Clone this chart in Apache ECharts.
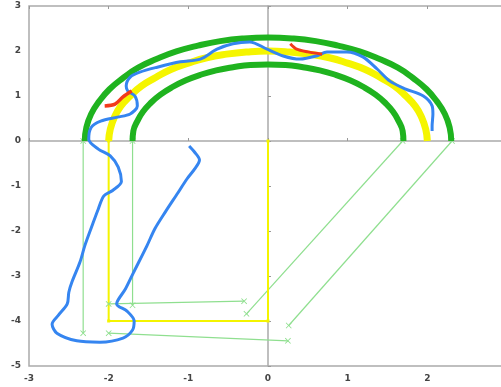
<!DOCTYPE html>
<html>
<head>
<meta charset="utf-8">
<script src="https://cdn.jsdelivr.net/npm/echarts@6/dist/echarts.min.js"></script>
<style>
html,body{margin:0;padding:0;background:#fff;}
#chart{width:501px;height:387px;}
</style>
</head>
<body>
<div id="chart"></div>
<script>
// tick values
var xTicks = [-3, -2, -1, 0, 1, 2, 3];
var yTicks = [-5, -4, -3, -2, -1, 0, 1, 2, 3];

// track arcs (thick green / yellow centre line)
var outerArc = [[2.3,0],[2.28,0.3],[2.22,0.6],[2.12,0.88],[1.99,1.15],[1.82,1.4],[1.63,1.63],[1.4,1.82],
  [1.15,1.99],[0.88,2.12],[0.6,2.22],[0.3,2.28],[0,2.3],[-0.3,2.28],[-0.6,2.22],[-0.88,2.12],
  [-1.15,1.99],[-1.4,1.82],[-1.63,1.63],[-1.82,1.4],[-1.99,1.15],[-2.12,0.88],[-2.22,0.6],[-2.28,0.3],[-2.3,0]];
var innerArc = [[1.7,0],[1.69,0.22],[1.64,0.44],[1.57,0.65],[1.47,0.85],[1.35,1.03],[1.2,1.2],[1.03,1.35],
  [0.85,1.47],[0.65,1.57],[0.44,1.64],[0.22,1.69],[0,1.7],[-0.22,1.69],[-0.44,1.64],[-0.65,1.57],
  [-0.85,1.47],[-1.03,1.35],[-1.2,1.2],[-1.35,1.03],[-1.47,0.85],[-1.57,0.65],[-1.64,0.44],[-1.69,0.22],[-1.7,0]];
var centreArc = [[2.0,0],[1.98,0.26],[1.93,0.52],[1.85,0.77],[1.73,1.0],[1.59,1.22],[1.41,1.41],[1.22,1.59],
  [1.0,1.73],[0.77,1.85],[0.52,1.93],[0.26,1.98],[0,2.0],[-0.26,1.98],[-0.52,1.93],[-0.77,1.85],
  [-1.0,1.73],[-1.22,1.59],[-1.41,1.41],[-1.59,1.22],[-1.73,1.0],[-1.85,0.77],[-1.93,0.52],[-1.98,0.26],[-2.0,0]];

// yellow centre path
var centrePath = [[-2,0],[-2,-4],[0,-4],[0,0]];

// thin green boundary segments
var outerSeg1 = [[-2.32,0],[-2.32,-4.27]];
var outerSeg2 = [[-2.0,-4.27],[0.25,-4.44]];
var outerSeg3 = [[0.26,-4.1],[2.31,0]];
var innerSeg1 = [[-1.7,0],[-1.7,-3.65]];
var innerSeg2 = [[-2.0,-3.62],[-0.3,-3.56]];
var innerSeg3 = [[-0.27,-3.84],[1.69,0]];

// driven trajectory
var trajectory = [[-0.99,-0.11],[-0.92,-0.25],[-0.86,-0.42],[-0.92,-0.62],[-1.02,-0.85],[-1.13,-1.15],
  [-1.29,-1.58],[-1.42,-1.95],[-1.52,-2.33],[-1.69,-2.93],[-1.79,-3.29],[-1.9,-3.62],[-1.77,-3.78],
  [-1.68,-4.0],[-1.7,-4.2],[-1.82,-4.38],[-2.11,-4.47],[-2.4,-4.44],[-2.65,-4.27],[-2.71,-4.07],
  [-2.63,-3.87],[-2.52,-3.62],[-2.5,-3.36],[-2.46,-3.13],[-2.36,-2.69],[-2.3,-2.33],[-2.21,-1.89],
  [-2.13,-1.51],[-2.06,-1.22],[-1.95,-1.1],[-1.84,-0.9],[-1.88,-0.58],[-1.98,-0.33],[-2.13,-0.18],
  [-2.25,0.04],[-2.22,0.3],[-2.1,0.44],[-1.89,0.53],[-1.73,0.6],[-1.64,0.78],[-1.67,1.0],
  [-1.76,1.11],[-1.78,1.22],[-1.73,1.42],[-1.61,1.53],[-1.39,1.64],[-1.1,1.76],[-0.85,1.82],
  [-0.64,2.04],[-0.44,2.16],[-0.23,2.2],[-0.01,2.04],[0.19,1.89],[0.4,1.82],[0.61,1.89],
  [0.74,1.98],[0.99,1.98],[1.19,1.87],[1.37,1.6],[1.53,1.33],[1.72,1.16],[1.95,1.0],
  [2.06,0.78],[2.07,0.6],[2.06,0.33],[2.06,0.22]];

// red pieces
var redLeft = [[-2.05,0.78],[-1.92,0.82],[-1.82,0.98],[-1.71,1.11]];
var redRight = [[0.28,2.16],[0.36,2.04],[0.5,1.98],[0.68,1.93]];

var chart = echarts.init(document.getElementById('chart'));

var cross = 'path://M0,1L1,0L5,4L9,0L10,1L6,5L10,9L9,10L5,6L1,10L0,9L4,5Z';
var lightGreen = '#8fdf8f';

function thin(data) {
  return {
    type: 'line', data: data, symbol: cross, symbolSize: 6, showSymbol: true,
    itemStyle: {color: lightGreen},
    lineStyle: {color: lightGreen, width: 1.2},
    silent: true, animation: false, z: 2
  };
}

function band(data, color, width) {
  return {
    type: 'line', data: data, smooth: true, symbol: 'none',
    lineStyle: {color: color, width: width},
    silent: true, animation: false, z: 3
  };
}

var labelStyle = {color: '#444', fontSize: 9, fontWeight: 'bold', fontFamily: 'DejaVu Sans', margin: 8};

var option = {
  backgroundColor: '#fff',
  animation: false,
  grid: {left: 29, top: 6, width: 478, height: 360, outerBoundsMode: 'none', containLabel: false,
    show: true, borderColor: '#aaa', borderWidth: 1.5},
  xAxis: [
    {
      type: 'value', min: xTicks[0], max: xTicks[xTicks.length - 1], interval: 1, position: 'bottom',
      axisLine: {show: true, lineStyle: {color: '#aaa', width: 1.5}},
      axisTick: {show: true, inside: true, length: 3, lineStyle: {color: '#999'}},
      splitLine: {show: false},
      axisLabel: labelStyle
    },
    {
      type: 'value', min: xTicks[0], max: xTicks[xTicks.length - 1], interval: 1, position: 'top',
      axisLine: {show: false},
      axisTick: {show: true, inside: true, length: 3, lineStyle: {color: '#999'}},
      splitLine: {show: false},
      axisLabel: {show: false}
    }
  ],
  yAxis: {
    type: 'value', min: yTicks[0], max: yTicks[yTicks.length - 1], interval: 1,
    axisLine: {show: true, lineStyle: {color: '#aaa', width: 1.5}},
    axisTick: {show: true, inside: true, length: 3, lineStyle: {color: '#999'}},
    splitLine: {show: false},
    axisLabel: labelStyle
  },
  series: [
    thin(outerSeg1), thin(outerSeg2), thin(outerSeg3),
    thin(innerSeg1), thin(innerSeg2), thin(innerSeg3),
    {
      type: 'line', data: centrePath, symbol: 'rect', symbolSize: 3,
      itemStyle: {color: '#f4f400'}, lineStyle: {color: '#f4f400', width: 2},
      silent: true, animation: false, z: 2
    },
    band(outerArc, '#1fb31f', 6),
    band(innerArc, '#1fb31f', 6),
    band(centreArc, '#f5f500', 7),
    {
      type: 'line', data: trajectory, smooth: 0.3, symbol: 'none',
      lineStyle: {color: '#3585f0', width: 3}, silent: true, animation: false, z: 4
    },
    {
      type: 'line', data: redLeft, smooth: 0.3, symbol: 'none',
      lineStyle: {color: '#f23a1a', width: 3.5}, silent: true, animation: false, z: 5
    },
    {
      type: 'line', data: redRight, smooth: 0.3, symbol: 'none',
      lineStyle: {color: '#f23a1a', width: 3}, silent: true, animation: false, z: 5
    }
  ]
};

chart.setOption(option);
</script>
</body>
</html>
